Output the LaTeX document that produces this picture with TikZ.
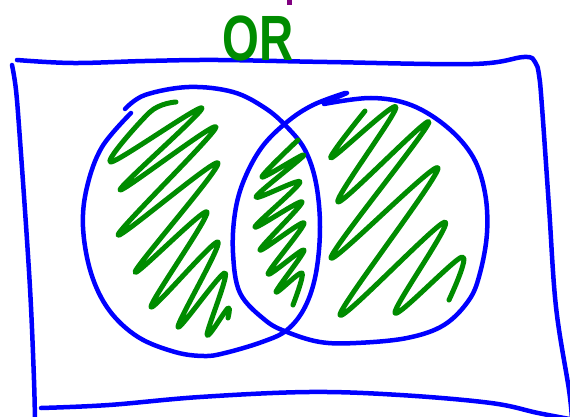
\documentclass[tikz,border=0pt]{standalone}
\usepackage{fontspec}
\newfontfamily\orfont{Liberation Sans}
\definecolor{penblue}{RGB}{0,0,255}
\definecolor{pengreen}{RGB}{0,140,0}
\definecolor{penpurple}{RGB}{128,0,128}
\tikzset{
  bluestroke/.style={draw=penblue, line width=4.5pt, line cap=round, line join=round},
  greenstroke/.style={draw=pengreen, line width=5pt, line cap=round, line join=round},
}
\begin{document}
\begin{tikzpicture}[x=1pt,y=-1pt]
\useasboundingbox (0,0) rectangle (570,417);
\clip (0,0) rectangle (570,417);
% frame
\draw[bluestroke] plot[smooth, tension=0.6] coordinates {(17,60) (73,63) (145,61) (218,60) (327,62) (473,64) (524,57) (535,62) (539,75) (542,107) (549,207) (556,307) (569,390) (572,420)};
\draw[bluestroke] plot[smooth, tension=0.6] coordinates {(12,65) (16,90) (20,140) (27,240) (31,307) (34,380) (35,420)};
\draw[bluestroke] plot[smooth, tension=0.6] coordinates {(41,408) (109,405) (200,397) (309,392) (400,395) (491,403) (538,413) (575,420)};
% left circle
\draw[bluestroke] plot[smooth, tension=0.6] coordinates {(125,109) (145,95) (189,87) (233,92) (265,108) (287,127) (305,150) (316,183) (320,227) (316,273) (305,307) (287,330) (262,342) (225,353) (204,356) (175,352) (138,337) (109,310) (91,273) (83,227) (87,187) (102,147) (131,113)};
% right circle
\draw[bluestroke] plot[smooth, tension=0.6] coordinates {(347,93) (324,103)};
\draw[bluestroke] plot[smooth, tension=0.6] coordinates {(324,104) (371,98) (411,105) (447,127) (473,157) (485,193) (487,233) (480,273) (469,300) (444,325) (407,338) (356,343) (320,342) (287,332) (265,320) (240,293) (233,253) (235,213) (244,180) (262,147) (287,122) (313,105) (345,93)};
% left scribble
\draw[greenstroke] plot[smooth, tension=0.55] coordinates {(176,102) (150,112) (111,162) (202,108) (120,190) (216,127) (118,235) (218,163) (135,272) (207,212) (151,307) (218,242) (178,327) (225,273) (207,335) (228,308) (228,318)};
% middle scribble
\draw[greenstroke] plot[smooth, tension=0.55] coordinates {(298,140) (262,177) (304,155) (256,197) (300,182) (255,227) (302,202) (260,250) (304,223) (268,274) (304,250) (276,292) (302,273) (293,305)};
% right scribble
\draw[greenstroke] plot[smooth, tension=0.55] coordinates {(365,111) (331,158) (396,107) (338,202) (429,122) (331,258) (438,168) (340,315) (445,222) (395,313) (462,257) (449,300)};
% title
\node[text=pengreen, font=\orfont\bfseries\fontsize{64}{64}\selectfont, xscale=0.74, anchor=base, inner sep=0pt] (ortext) at (258,61) {OR};
\fill[penpurple] (287,0) rectangle (292,5);
\end{tikzpicture}
\end{document}
